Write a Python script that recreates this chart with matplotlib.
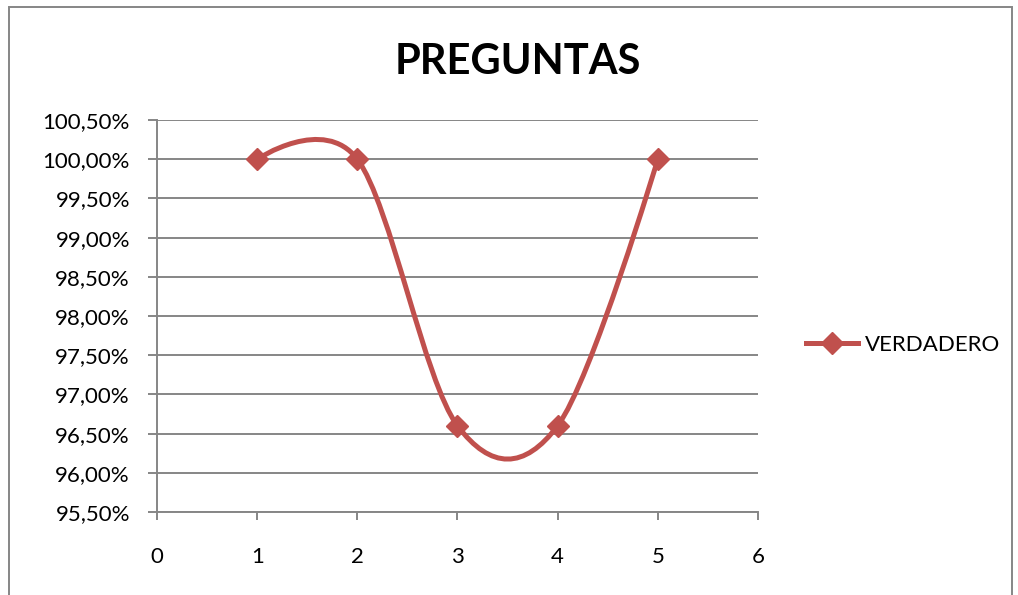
import numpy as np
import matplotlib
matplotlib.use('Agg')
from matplotlib import pyplot as plt
from matplotlib.path import Path
from matplotlib.patches import PathPatch, Rectangle
from matplotlib.lines import Line2D
from matplotlib.ticker import FuncFormatter

plt.rcParams['font.family'] = ['Lato', 'DejaVu Sans']

# Data
preguntas = [1, 2, 3, 4, 5]
verdadero = [100.0, 100.0, 96.6, 96.6, 100.0]
serie = 'VERDADERO'
titulo = 'PREGUNTAS'

RED = '#C0504D'
GRAY = '#868686'

fig = plt.figure(figsize=(10.18, 5.95), dpi=100)
ax = fig.add_axes([0.1542, 0.1395, 0.5904, 0.6588])

# Smoothed line: cubic Bezier segments (Catmull-Rom style control points)
pts = np.column_stack([preguntas, verdadero]).astype(float)
n = len(pts)
verts = [tuple(pts[0])]
codes = [Path.MOVETO]
for i in range(n - 1):
    p1, p2 = pts[i], pts[i + 1]
    c1 = p1 + (pts[i + 1] - pts[i - 1]) / 6 if i > 0 else p1
    c2 = p2 - (pts[i + 2] - pts[i]) / 6 if i + 2 < n else p2
    verts += [tuple(c1), tuple(c2), tuple(p2)]
    codes += [Path.CURVE4] * 3
ax.add_patch(PathPatch(Path(verts, codes), facecolor='none', edgecolor=RED,
                       lw=3.6, capstyle='round', zorder=3))
ax.plot(preguntas, verdadero, linestyle='none', marker='D', markersize=11,
        color=RED, zorder=4)

ax.set_xlim(0, 6)
ax.set_ylim(95.5, 100.5)
ax.set_xticks(range(0, 7))
ax.set_yticks(np.arange(95.5, 100.51, 0.5))
ax.yaxis.set_major_formatter(FuncFormatter(lambda v, p: f'{v:.2f}%'.replace('.', ',')))
ax.grid(axis='y', color=GRAY, lw=1.4)
ax.set_axisbelow(True)
for s in ['top', 'right']:
    ax.spines[s].set_visible(False)
for s in ['left', 'bottom']:
    ax.spines[s].set_color(GRAY)
    ax.spines[s].set_linewidth(1.4)
ax.tick_params(axis='y', length=6.5, width=1.4, color=GRAY, pad=13, labelsize=16)
ax.tick_params(axis='x', length=6, width=1.4, color=GRAY, pad=19, labelsize=16)

fig.text(0.509, 0.895, titulo, ha='center', va='center', fontsize=30, fontweight='bold')

handle = Line2D([], [], color=RED, lw=3.6, marker='D', markersize=11)
fig.legend([handle], [serie], loc='center left', bbox_to_anchor=(0.792, 0.42),
           frameon=False, fontsize=16, borderpad=0, borderaxespad=0,
           handlelength=2.35, handletextpad=0.3)

# Chart area border
fig.add_artist(Rectangle((0.0088, -0.1), 0.985, 1.088, transform=fig.transFigure,
                         fill=False, edgecolor=GRAY, lw=1.4))

fig.savefig('out.png', dpi=100)
